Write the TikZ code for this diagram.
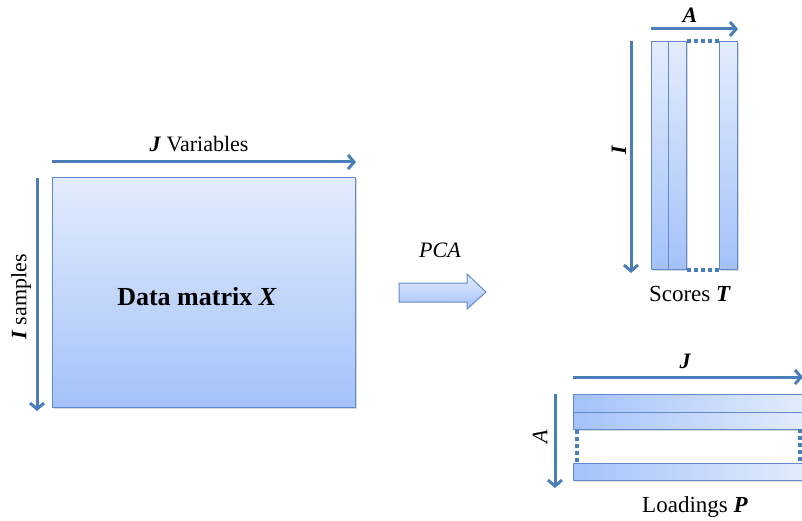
\documentclass[tikz,border=0pt]{standalone}
\usepackage{fontspec}
\setmainfont{Liberation Serif}
\usetikzlibrary{arrows.meta,calc,shadows}
\definecolor{axisblue}{RGB}{74,126,187}
\definecolor{edgeblue}{RGB}{96,138,204}
\definecolor{fillhi}{RGB}{227,236,252}
\definecolor{filllo}{RGB}{164,194,249}

\begin{document}
\begin{tikzpicture}[x=1pt,y=-1pt,
  dimarrow/.style={draw=axisblue, line width=3pt,
    -{Straight Barb[length=6pt,width=14pt,line width=3pt]}},
  block/.style={draw=edgeblue, line width=1pt, inner sep=0pt, anchor=north west,
    drop shadow={shadow xshift=1pt, shadow yshift=-1.5pt, opacity=0.15, fill=black}},
  vblock/.style={block, top color=fillhi, bottom color=filllo},
  hblock/.style={block, left color=filllo, right color=fillhi},
  gapline/.style={draw=axisblue, line width=3.5pt, dash pattern=on 3.5pt off 3.5pt},
  lbl/.style={font=\fontsize{23}{26}\selectfont, inner sep=0pt},
  letter/.style={font=\fontsize{22}{25}\selectfont\bfseries\itshape, inner sep=0pt}
]
\useasboundingbox (0,0) rectangle (802,521);

% data matrix X with its two dimension arrows
\node[vblock, minimum width=303pt, minimum height=230pt] (X) at (52,177) {};
\node[inner sep=0pt, font=\fontsize{26}{30}\selectfont\bfseries] (xlab) at (197,297) {Data matrix \textit{X}};
\draw[dimarrow] ($(X.north west)+(0,-15)$) -- ($(X.north east)+(0,-15)$);
\draw[dimarrow] ($(X.north west)+(-15,1)$) -- ($(X.south west)+(-15,3)$);
\node[lbl, font=\fontsize{22}{25}\selectfont] (jlab) at (199,144) {\textbf{\textit{J}} Variables};
\node[lbl, font=\fontsize{22}{25}\selectfont, rotate=90] (ilab) at (21,297) {\textbf{\textit{I}} samples};

% PCA block arrow
\node[lbl, font=\fontsize{22}{25}\selectfont\itshape] (pca) at (440,250) {PCA};
\shade[top color=fillhi, bottom color=filllo, draw=edgeblue, line width=1pt]
  (399,283) -- (467,283) -- (467,274) -- (486,292) -- (467,309) -- (467,302) -- (399,302) -- cycle;

% scores T: column blocks
\node[vblock, minimum width=17pt, minimum height=228pt] (t1) at (651,41) {};
\node[vblock, minimum width=18pt, minimum height=228pt] (t2) at (668,41) {};
\node[vblock, minimum width=18pt, minimum height=228pt] (ta) at (719,41) {};
\draw[gapline] (t2.north east) -- (ta.north west);
\draw[gapline] (t2.south east) -- (ta.south west);
\draw[dimarrow] ($(t1.north west)+(0,-12)$) -- ($(ta.north east)+(0,-12)$);
\draw[dimarrow] ($(t1.north west)+(-20,0)$) -- ($(t1.south west)+(-20,3)$);
\node[letter] (alab) at (690,15) {A};
\node[letter, rotate=90] (ilab2) at (619,150) {I};
\node[lbl] (tlab) at (690,294) {Scores \textbf{\textit{T}}};

% loadings P: row blocks
\node[hblock, minimum width=231pt, minimum height=18pt] (p1) at (573,394) {};
\node[hblock, minimum width=231pt, minimum height=17pt] (p2) at (573,412) {};
\node[hblock, minimum width=231pt, minimum height=17pt] (pa) at (573,463) {};
\coordinate (gr0) at (800,429);
\coordinate (gr1) at (800,463);
\draw[gapline] ($(p2.south west)+(4,0)$) -- ($(pa.north west)+(4,0)$);
\draw[gapline] (gr0) -- (gr1);
\coordinate (jend) at (803,377);
\draw[dimarrow] ($(p1.north west)+(0,-17)$) -- (jend);
\draw[dimarrow] ($(p1.north west)+(-18,0)$) -- ($(pa.south west)+(-18,7)$);
\node[letter] (jlab2) at (685,361) {J};
\node[letter, rotate=90, font=\fontsize{22}{25}\selectfont\itshape] (alab2) at (540,437) {A};
\node[lbl] (plab) at (695,507) {Loadings \textbf{\textit{P}}};
\end{tikzpicture}
\end{document}
